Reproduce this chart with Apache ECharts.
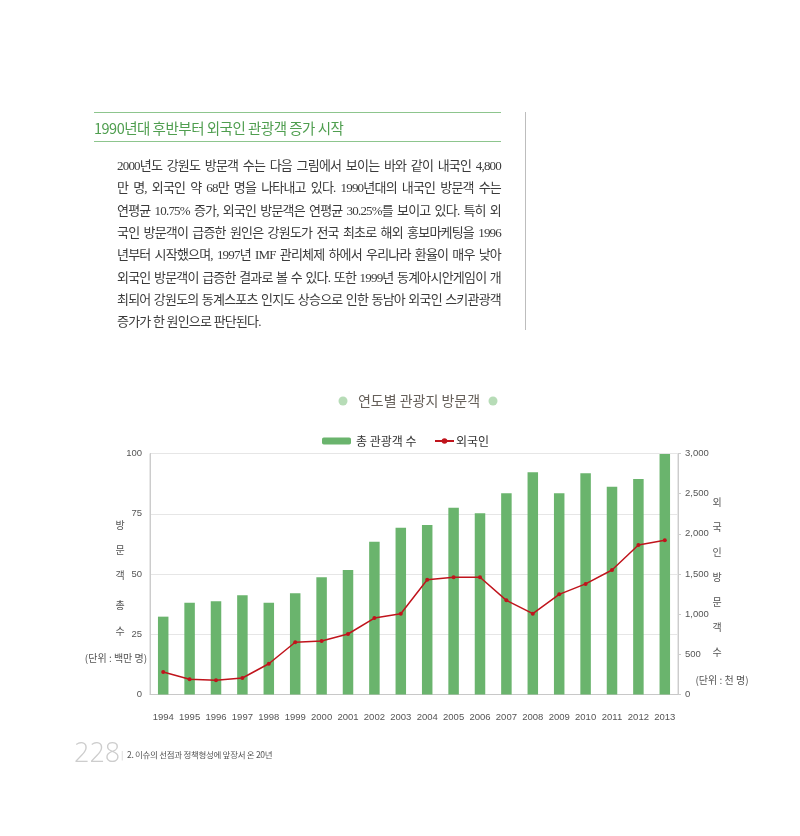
<!DOCTYPE html>
<html><head><meta charset="utf-8">
<script src="https://cdn.jsdelivr.net/npm/echarts@6/dist/echarts.min.js"></script>
<style>
html,body{margin:0;padding:0;background:#fff;width:800px;height:836px;overflow:hidden;}
#page{position:relative;width:800px;height:836px;}
#chart{position:absolute;left:0;top:0;width:800px;height:836px;}
.hline{position:absolute;left:94px;width:407px;height:0;border-top:1.5px solid #8dc58d;}
.vline{position:absolute;left:525px;top:112px;width:0;height:218px;border-left:1px solid #bdbdbd;}
.title{position:absolute;left:94px;top:118px;font-family:"Noto Sans CJK KR",sans-serif;font-size:14.5px;line-height:20px;color:#4f9e4f;letter-spacing:-0.5px;white-space:nowrap;}
.para{position:absolute;left:117px;width:384px;font-family:"Liberation Serif","Noto Sans CJK KR",serif;font-size:13px;line-height:16px;color:#3a3a3a;white-space:nowrap;text-align:justify;text-align-last:justify;letter-spacing:-0.8px;}
.para.last{text-align:left;text-align-last:left;}
.pgnum{position:absolute;left:74px;top:736px;font-family:"Open Sans","Liberation Sans",sans-serif;font-size:27px;line-height:32px;color:#cdcdcd;font-weight:300;}
.pgtxt{position:absolute;left:121px;top:748px;font-family:"Noto Sans CJK KR",sans-serif;font-size:8.5px;line-height:12px;color:#555;white-space:nowrap;letter-spacing:-0.3px;}
.pgtxt span{color:#c8c8c8;margin-right:4px;}
</style></head>
<body><div id="page">
<div id="chart"></div>
<div class="hline" style="top:112px"></div>
<div class="title">1990년대 후반부터 외국인 관광객 증가 시작</div>
<div class="hline" style="top:141px"></div>
<div class="vline"></div>
<div id="paras"></div>
<div class="pgnum">228</div>
<div class="pgtxt"><span>|</span>2. 이슈의 선점과 정책형성에 앞장서 온 20년</div>
</div>
<script>
// ---- data ----
const years = ['1994','1995','1996','1997','1998','1999','2000','2001','2002','2003','2004','2005','2006','2007','2008','2009','2010','2011','2012','2013'];
const totalVisitors = [32.3, 38.1, 38.7, 41.2, 38.1, 42.0, 48.6, 51.7, 63.4, 69.2, 70.3, 77.5, 75.2, 83.5, 92.2, 83.5, 91.8, 86.2, 89.4, 99.8];
const foreignVisitors = [280, 189, 177, 205, 383, 650, 665, 753, 952, 1006, 1429, 1459, 1459, 1172, 1006, 1247, 1377, 1550, 1861, 1919];
const leftTicks = [0, 25, 50, 75, 100];
const rightTicks = [0, 500, 1000, 1500, 2000, 2500, 3000];
const seriesNames = ['총 관광객 수', '외국인'];
const chartTitle = '연도별 관광지 방문객';
const leftAxisName = ['방', '문', '객', '총', '수'];
const leftUnit = '(단위 : 백만 명)';
const rightAxisName = ['외', '국', '인', '방', '문', '객', '수'];
const rightUnit = '(단위 : 천 명)';
const paraLines = [
 '2000년도 강원도 방문객 수는 다음 그림에서 보이는 바와 같이 내국인 4,800',
 '만 명, 외국인 약 68만 명을 나타내고 있다. 1990년대의 내국인 방문객 수는',
 '연평균 10.75% 증가, 외국인 방문객은 연평균 30.25%를 보이고 있다. 특히 외',
 '국인 방문객이 급증한 원인은 강원도가 전국 최초로 해외 홍보마케팅을 1996',
 '년부터 시작했으며, 1997년 IMF 관리체제 하에서 우리나라 환율이 매우 낮아',
 '외국인 방문객이 급증한 결과로 볼 수 있다. 또한 1999년 동계아시안게임이 개',
 '최되어 강원도의 동계스포츠 인지도 상승으로 인한 동남아 외국인 스키관광객',
 '증가가 한 원인으로 판단된다.'
];

// ---- paragraph ----
const pc = document.getElementById('paras');
paraLines.forEach((t, i) => {
  const d = document.createElement('div');
  d.className = 'para' + (i === paraLines.length - 1 ? ' last' : '');
  d.style.top = (158 + i * 22.3) + 'px';
  d.textContent = t;
  pc.appendChild(d);
});

// ---- chart ----
const chart = echarts.init(document.getElementById('chart'), null, {renderer: 'canvas'});
const FONT = '"Liberation Sans","Noto Sans CJK KR",sans-serif';
const KFONT = '"Noto Sans CJK KR",sans-serif';
const graphics = [
  {type: 'circle', shape: {cx: 343, cy: 401, r: 4.5}, style: {fill: '#b7dcb7'}},
  {type: 'circle', shape: {cx: 493, cy: 401, r: 4.5}, style: {fill: '#b7dcb7'}},
  {type: 'text', x: 419, y: 401, style: {text: chartTitle, fill: '#66605a', font: '14px ' + KFONT, align: 'center', verticalAlign: 'middle'}},
  {type: 'text', x: 116, y: 658, style: {text: leftUnit, fill: '#555', font: '10px ' + KFONT, align: 'center', verticalAlign: 'middle'}},
  {type: 'text', x: 722, y: 680, style: {text: rightUnit, fill: '#555', font: '10px ' + KFONT, align: 'center', verticalAlign: 'middle'}}
];
const leftYs = [525, 550, 575, 605, 631];
leftAxisName.forEach((c, i) => graphics.push({type: 'text', x: 120, y: leftYs[i], style: {text: c, fill: '#555', font: '10px ' + KFONT, align: 'center', verticalAlign: 'middle'}}));
rightAxisName.forEach((c, i) => graphics.push({type: 'text', x: 717, y: 502 + i * 25, style: {text: c, fill: '#555', font: '10px ' + KFONT, align: 'center', verticalAlign: 'middle'}}));

const option = {
  animation: false,
  textStyle: {fontFamily: FONT},
  grid: {left: 150, right: 122, top: 453.5, bottom: 141.5, show: true, borderColor: '#d0d0d0', borderWidth: 1, backgroundColor: 'transparent'},
  legend: [
    {data: [seriesNames[0]], left: 317, top: 430, itemWidth: 29, itemHeight: 7, itemGap: 5, textStyle: {fontSize: 12, color: '#333', fontFamily: KFONT}},
    {data: [seriesNames[1]], left: 429, top: 430, itemWidth: 19, itemHeight: 7, textStyle: {fontSize: 12, color: '#333', fontFamily: KFONT, padding: [0, 0, 0, -3]}}
  ],
  xAxis: {
    type: 'category', data: years,
    axisLine: {lineStyle: {color: '#c8c8c8'}},
    axisTick: {show: false},
    axisLabel: {color: '#555', fontSize: 9.5, margin: 18, interval: 0}
  },
  yAxis: [
    {type: 'value', min: leftTicks[0], max: leftTicks[leftTicks.length - 1], interval: 25,
     axisLine: {show: true, lineStyle: {color: '#cccccc'}}, axisTick: {show: false},
     axisLabel: {color: '#555', fontSize: 9.5, margin: 8},
     splitLine: {lineStyle: {color: '#e6e6e6'}}},
    {type: 'value', min: rightTicks[0], max: rightTicks[rightTicks.length - 1], interval: 500,
     axisLine: {show: true, lineStyle: {color: '#cccccc'}}, axisTick: {show: true, length: 3, lineStyle: {color: '#cccccc'}},
     axisLabel: {color: '#555', fontSize: 9.5, margin: 7, formatter: v => v.toLocaleString('en-US')},
     splitLine: {show: false}}
  ],
  series: [
    {name: seriesNames[0], type: 'bar', data: totalVisitors, barWidth: 10.5, itemStyle: {color: '#6ab46d'}},
    {name: seriesNames[1], type: 'line', yAxisIndex: 1, data: foreignVisitors, symbol: 'circle', symbolSize: 4,
     lineStyle: {color: '#c0141c', width: 1.5}, itemStyle: {color: '#c0141c'}}
  ],
  graphic: graphics
};
chart.setOption(option);
</script>
</body></html>
